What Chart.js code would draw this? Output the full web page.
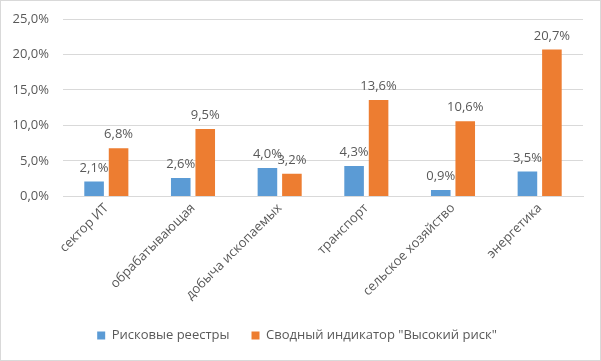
<!DOCTYPE html>
<html>
<head>
<meta charset="utf-8">
<script src="https://cdn.jsdelivr.net/npm/chart.js@4"></script>
<style>
body{margin:0;background:#fff;}
#box{width:599px;height:359px;border:1px solid #d9d9d9;}
</style>
</head>
<body>
<div id="box"><canvas id="myChart" width="599" height="359"></canvas></div>
<script>
const categories = ["сектор ИТ","обрабатывающая","добыча ископаемых","транспорт","сельское хозяйство","энергетика"];
const riskRegisters = [2.1, 2.6, 4.0, 4.3, 0.9, 3.5];
const highRisk = [6.8, 9.5, 3.2, 13.6, 10.6, 20.7];
const seriesNames = ["Рисковые реестры", "Сводный индикатор \"Высокий риск\""];
const colors = ["#5B9BD5", "#ED7D31"];
const fontName = "'Open Sans', sans-serif";
const textColor = "#595959";

function pct(v){
    return v.toFixed(1).replace(".", ",") + "%";
}

// подписи над столбцами
const valueLabels = {
    id: "valueLabels",
    afterDatasetsDraw(chart){
        const ctx = chart.ctx;
        ctx.save();
        ctx.font = "13px " + fontName;
        ctx.fillStyle = textColor;
        ctx.textAlign = "center";
        ctx.textBaseline = "bottom";
        chart.data.datasets.forEach((ds, i) => {
            chart.getDatasetMeta(i).data.forEach((bar, j) => {
                ctx.fillText(pct(ds.data[j]), bar.x, bar.y - 7);
            });
        });
        ctx.restore();
    }
};

new Chart("myChart", {
    type: "bar",
    data: {
        labels: categories,
        datasets: [
            {label: seriesNames[0], data: riskRegisters, backgroundColor: colors[0]},
            {label: seriesNames[1], data: highRisk, backgroundColor: colors[1]}
        ]
    },
    options: {
        responsive: false,
        animation: false,
        datasets: {bar: {categoryPercentage: 0.565, barPercentage: 0.8}},
        layout: {padding: {left: 10, right: 17, top: 4, bottom: 8}},
        scales: {
            x: {
                grid: {display: false, drawTicks: false},
                border: {color: "#d9d9d9"},
                ticks: {padding: 4, color: textColor, font: {family: fontName, size: 13}, minRotation: 45, maxRotation: 45},
                afterFit(scale){
                    scale.paddingLeft = 0;
                    scale.paddingRight = 0;
                }
            },
            y: {
                min: 0, max: 25,
                grid: {color: "#d9d9d9", drawTicks: false},
                border: {display: false},
                ticks: {stepSize: 5, padding: 14, color: textColor, font: {family: fontName, size: 13}, callback: v => pct(v)},
                afterFit(scale){
                    scale.width = 52;
                    scale.paddingTop = 18;
                }
            }
        },
        plugins: {
            legend: {
                position: "bottom",
                labels: {boxWidth: 8, boxHeight: 8, padding: 22, color: textColor, font: {family: fontName, size: 13}}
            },
            tooltip: {enabled: false}
        }
    },
    plugins: [valueLabels]
});
</script>
</body>
</html>
